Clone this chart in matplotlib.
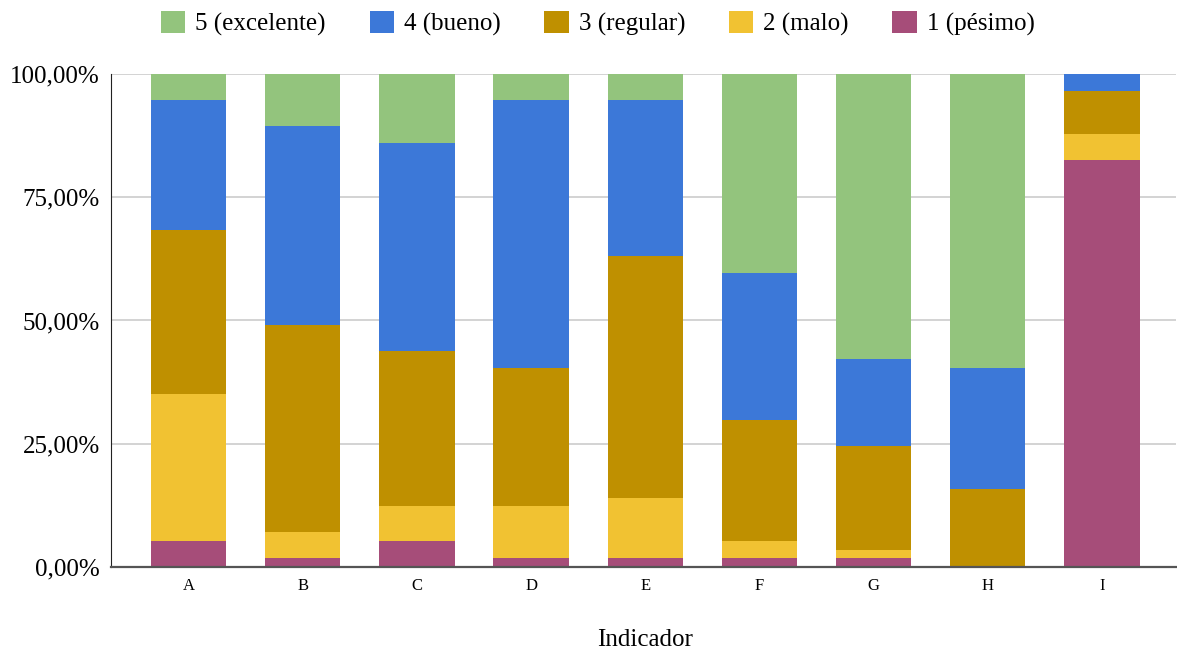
import matplotlib.pyplot as plt
import numpy as np

plt.rcParams['font.family'] = ['Liberation Serif', 'DejaVu Serif']

indicadores = ['A', 'B', 'C', 'D', 'E', 'F', 'G', 'H', 'I']
# counts per rating (out of 57 answers)
pesimo    = [3, 1, 3, 1, 1, 1, 1, 0, 47]
malo      = [17, 3, 4, 6, 7, 2, 1, 0, 3]
regular   = [19, 24, 18, 16, 28, 14, 12, 9, 5]
bueno     = [15, 23, 24, 31, 18, 17, 10, 14, 2]
excelente = [3, 6, 8, 3, 3, 23, 33, 34, 0]

series = [
    ('1 (pésimo)', pesimo, '#a64d79'),
    ('2 (malo)', malo, '#f1c232'),
    ('3 (regular)', regular, '#bf9000'),
    ('4 (bueno)', bueno, '#3c78d8'),
    ('5 (excelente)', excelente, '#93c47d'),
]

totals = np.sum([s[1] for s in series], axis=0)

fig = plt.figure(figsize=(11.77, 6.54), dpi=100)
ax = fig.add_axes([0.0943, 0.133, 0.905, 0.754])

x = np.arange(len(indicadores))
bottom = np.zeros(len(indicadores))
handles = []
for name, vals, col in series:
    pct = np.array(vals) / totals * 100
    b = ax.bar(x, pct, 0.66, bottom=bottom, color=col, label=name, zorder=3)
    handles.append(b)
    bottom += pct

ax.set_ylim(0, 100)
ax.set_xlim(-0.68, 8.65)
ax.set_yticks([0, 25, 50, 75, 100])
ax.set_yticklabels(['0,00%', '25,00%', '50,00%', '75,00%', '100,00%'], fontsize=18)
ax.set_xticks(x)
ax.set_xticklabels(indicadores, fontsize=12)
ax.tick_params(axis='x', length=0, pad=8)
ax.tick_params(axis='y', length=0, pad=8)
ax.yaxis.grid(True, color='#cccccc', linewidth=1.2, zorder=0)
for s in ['top', 'right']:
    ax.spines[s].set_visible(False)
ax.spines['left'].set_color('#222222')
ax.spines['bottom'].set_color('#555555')
ax.spines['bottom'].set_linewidth(1.6)
ax.spines['bottom'].set_zorder(4)
fig.text(0.548, 0.021, 'Indicador', fontsize=18, ha='center', va='center')

fig.legend(handles[::-1], [s[0] for s in series][::-1], loc='center',
           bbox_to_anchor=(0.508, 0.964), ncol=5, frameon=False, fontsize=18,
           handlelength=0.97, handleheight=0.97, handletextpad=0.4, columnspacing=1.75,
           borderpad=0)

fig.savefig('out.png', dpi=100)
